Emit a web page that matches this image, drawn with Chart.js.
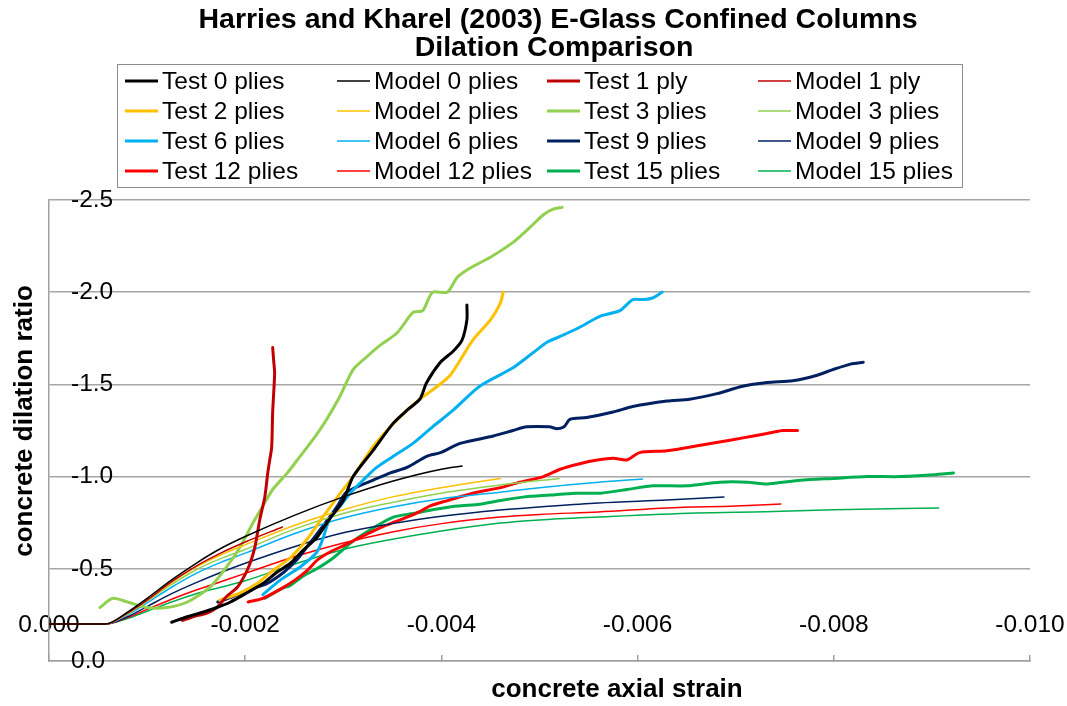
<!DOCTYPE html>
<html><head><meta charset="utf-8">
<script src="https://cdn.jsdelivr.net/npm/chart.js@4.4.1/dist/chart.umd.min.js"></script>
<style>html,body{margin:0;padding:0;background:#fff;}canvas{display:block;}</style>
</head><body>
<canvas id="c" width="1067" height="706"></canvas>
<script>
const FONT = '"Liberation Sans", Arial, Helvetica, sans-serif';

// ---------- data (concrete axial strain, concrete dilation ratio) ----------
const test0Strain = [-0.00125,-0.00141,-0.00154,-0.00171,-0.00185,-0.00202,-0.00218,-0.00232,-0.00246,-0.00259,-0.00273,-0.00286,-0.00300,-0.00310,-0.00330,-0.00351,-0.00365,-0.00378,-0.00385,-0.00399,-0.00412,-0.00421,-0.00426,-0.00426];
const test0Ratio  = [-0.21,-0.24,-0.26,-0.29,-0.32,-0.37,-0.42,-0.48,-0.53,-0.60,-0.67,-0.77,-0.87,-1.00,-1.14,-1.29,-1.36,-1.42,-1.51,-1.62,-1.68,-1.74,-1.85,-1.93];
const model0Strain = [0,-0.00057,-0.0008,-0.001,-0.00125,-0.0015,-0.00175,-0.002,-0.0025,-0.003,-0.0035,-0.004,-0.00421];
const model0Ratio  = [-0.2,-0.2,-0.265,-0.34,-0.44,-0.53,-0.61,-0.675,-0.79,-0.89,-0.975,-1.04,-1.057];

const test1Strain = [-0.00136,-0.00147,-0.00161,-0.00171,-0.00181,-0.00192,-0.00200,-0.00205,-0.00210,-0.00215,-0.00220,-0.00223,-0.00225,-0.00227,-0.00228,-0.00230,-0.00229,-0.00228];
const test1Ratio  = [-0.22,-0.24,-0.26,-0.29,-0.35,-0.40,-0.47,-0.53,-0.62,-0.77,-0.89,-1.02,-1.09,-1.16,-1.35,-1.56,-1.63,-1.70];
const model1Strain = [0,-0.00057,-0.0008,-0.001,-0.00125,-0.0015,-0.00175,-0.002,-0.00238];
const model1Ratio  = [-0.2,-0.2,-0.26,-0.33,-0.43,-0.515,-0.585,-0.645,-0.727];

const test2Strain = [-0.00174,-0.00195,-0.00212,-0.00228,-0.00246,-0.00263,-0.00279,-0.00297,-0.00310,-0.00330,-0.00348,-0.00365,-0.00378,-0.00396,-0.00409,-0.00419,-0.00432,-0.00450,-0.00460,-0.00463];
const test2Ratio  = [-0.33,-0.37,-0.42,-0.49,-0.56,-0.66,-0.78,-0.91,-1.00,-1.16,-1.27,-1.36,-1.42,-1.49,-1.55,-1.63,-1.74,-1.85,-1.94,-2.00];
const model2Strain = [0,-0.00057,-0.0008,-0.001,-0.00125,-0.0015,-0.00175,-0.002,-0.0025,-0.003,-0.0035,-0.004,-0.0046];
const model2Ratio  = [-0.2,-0.2,-0.26,-0.33,-0.425,-0.51,-0.575,-0.63,-0.735,-0.82,-0.89,-0.94,-0.99];

const test3Strain = [-0.00052,-0.00065,-0.00080,-0.00100,-0.00120,-0.00141,-0.00164,-0.00181,-0.00195,-0.00208,-0.00218,-0.00228,-0.00243,-0.00256,-0.00269,-0.00283,-0.00297,-0.00310,-0.00324,-0.00337,-0.00355,-0.00371,-0.00381,-0.00391,-0.00406,-0.00416,-0.00429,-0.00450,-0.00473,-0.00490,-0.00504,-0.00514,-0.00523];
const test3Ratio  = [-0.29,-0.34,-0.32,-0.29,-0.29,-0.32,-0.40,-0.51,-0.62,-0.75,-0.84,-0.93,-1.02,-1.11,-1.20,-1.31,-1.44,-1.58,-1.65,-1.71,-1.78,-1.89,-1.90,-2.00,-2.00,-2.08,-2.13,-2.19,-2.27,-2.35,-2.42,-2.45,-2.46];
const model3Strain = [0,-0.00057,-0.0008,-0.001,-0.00125,-0.0015,-0.00175,-0.002,-0.0025,-0.003,-0.0035,-0.004,-0.0046,-0.0052];
const model3Ratio  = [-0.2,-0.2,-0.255,-0.325,-0.415,-0.495,-0.555,-0.605,-0.715,-0.80,-0.86,-0.91,-0.954,-0.99];

const test6Strain = [-0.00218,-0.00236,-0.00256,-0.00273,-0.00279,-0.00286,-0.00297,-0.00307,-0.00320,-0.00334,-0.00351,-0.00371,-0.00391,-0.00412,-0.00439,-0.00473,-0.00493,-0.00508,-0.00521,-0.00541,-0.00562,-0.00582,-0.00595,-0.00606,-0.00616,-0.00625];
const test6Ratio  = [-0.36,-0.44,-0.51,-0.59,-0.66,-0.77,-0.84,-0.91,-0.98,-1.05,-1.11,-1.18,-1.27,-1.36,-1.49,-1.59,-1.67,-1.73,-1.76,-1.81,-1.87,-1.90,-1.96,-1.96,-1.97,-2.00];
const model6Strain = [0,-0.00057,-0.0008,-0.001,-0.00125,-0.0015,-0.00175,-0.002,-0.0025,-0.003,-0.0035,-0.004,-0.0046,-0.005,-0.0056,-0.00605];
const model6Ratio  = [-0.2,-0.2,-0.25,-0.315,-0.40,-0.475,-0.535,-0.585,-0.69,-0.775,-0.835,-0.88,-0.915,-0.94,-0.97,-0.987];

const test9Strain = [-0.00172,-0.00188,-0.00205,-0.00222,-0.00239,-0.00253,-0.00266,-0.00279,-0.00294,-0.00302,-0.00312,-0.00330,-0.00348,-0.00365,-0.00385,-0.00399,-0.00419,-0.00453,-0.00473,-0.00487,-0.00510,-0.00518,-0.00525,-0.00531,-0.00548,-0.00575,-0.00595,-0.00630,-0.00653,-0.00681,-0.00707,-0.00732,-0.00758,-0.00783,-0.00799,-0.00817,-0.00830];
const test9Ratio  = [-0.32,-0.35,-0.39,-0.42,-0.48,-0.55,-0.64,-0.73,-0.84,-0.91,-0.94,-0.98,-1.02,-1.05,-1.11,-1.13,-1.18,-1.22,-1.25,-1.27,-1.27,-1.26,-1.27,-1.31,-1.32,-1.35,-1.38,-1.41,-1.42,-1.45,-1.49,-1.51,-1.52,-1.55,-1.58,-1.61,-1.62];
const model9Strain = [0,-0.00057,-0.0008,-0.001,-0.00125,-0.0015,-0.00175,-0.002,-0.0025,-0.003,-0.0035,-0.004,-0.0046,-0.005,-0.0056,-0.0063,-0.00688];
const model9Ratio  = [-0.2,-0.2,-0.24,-0.295,-0.365,-0.425,-0.48,-0.53,-0.62,-0.695,-0.745,-0.785,-0.819,-0.835,-0.857,-0.873,-0.889];

const test12Strain = [-0.00203,-0.00218,-0.00236,-0.00251,-0.00263,-0.00274,-0.00286,-0.00302,-0.00317,-0.00341,-0.00365,-0.00378,-0.00388,-0.00406,-0.00432,-0.00460,-0.00480,-0.00504,-0.00521,-0.00541,-0.00559,-0.00575,-0.00589,-0.00602,-0.00630,-0.00664,-0.00697,-0.00718,-0.00738,-0.00748,-0.00763];
const test12Ratio  = [-0.32,-0.34,-0.39,-0.44,-0.49,-0.55,-0.59,-0.63,-0.67,-0.73,-0.78,-0.81,-0.84,-0.87,-0.91,-0.94,-0.97,-1.00,-1.04,-1.07,-1.09,-1.10,-1.09,-1.13,-1.14,-1.17,-1.20,-1.22,-1.24,-1.25,-1.25];
const model12Strain = [0,-0.00057,-0.0008,-0.001,-0.00125,-0.0015,-0.00175,-0.002,-0.0025,-0.003,-0.0035,-0.004,-0.0046,-0.005,-0.0056,-0.0063,-0.007,-0.00746];
const model12Ratio  = [-0.2,-0.2,-0.235,-0.28,-0.335,-0.385,-0.43,-0.475,-0.565,-0.64,-0.70,-0.745,-0.781,-0.795,-0.808,-0.83,-0.841,-0.851];

const test15Strain = [-0.00220,-0.00236,-0.00246,-0.00259,-0.00273,-0.00290,-0.00310,-0.00330,-0.00351,-0.00371,-0.00391,-0.00416,-0.00439,-0.00460,-0.00485,-0.00511,-0.00536,-0.00562,-0.00589,-0.00616,-0.00650,-0.00684,-0.00712,-0.00732,-0.00766,-0.00799,-0.00834,-0.00868,-0.00901,-0.00922];
const test15Ratio  = [-0.34,-0.39,-0.41,-0.46,-0.50,-0.56,-0.65,-0.72,-0.78,-0.80,-0.82,-0.84,-0.85,-0.87,-0.89,-0.90,-0.91,-0.91,-0.93,-0.95,-0.95,-0.97,-0.97,-0.96,-0.98,-0.99,-1.00,-1.00,-1.01,-1.02];
const model15Strain = [0,-0.00057,-0.0008,-0.001,-0.00125,-0.0015,-0.00175,-0.002,-0.0025,-0.003,-0.0035,-0.004,-0.0046,-0.005,-0.0056,-0.0066,-0.0073,-0.008,-0.00907];
const model15Ratio  = [-0.2,-0.2,-0.23,-0.27,-0.32,-0.365,-0.40,-0.435,-0.525,-0.605,-0.66,-0.705,-0.748,-0.765,-0.781,-0.803,-0.81,-0.82,-0.83];

const seriesLabels = ['Test 0 plies','Model 0 plies','Test 1 ply','Model 1 ply',
  'Test 2 plies','Model 2 plies','Test 3 plies','Model 3 plies',
  'Test 6 plies','Model 6 plies','Test 9 plies','Model 9 plies',
  'Test 12 plies','Model 12 plies','Test 15 plies','Model 15 plies'];
const seriesStrain = [test0Strain,model0Strain,test1Strain,model1Strain,test2Strain,model2Strain,test3Strain,model3Strain,
  test6Strain,model6Strain,test9Strain,model9Strain,test12Strain,model12Strain,test15Strain,model15Strain];
const seriesRatio = [test0Ratio,model0Ratio,test1Ratio,model1Ratio,test2Ratio,model2Ratio,test3Ratio,model3Ratio,
  test6Ratio,model6Ratio,test9Ratio,model9Ratio,test12Ratio,model12Ratio,test15Ratio,model15Ratio];
const seriesColors = ['#000000','#000000','#C00000','#C00000','#FFC000','#FFC000','#92D050','#92D050',
  '#00B0F0','#00B0F0','#002060','#002060','#FF0000','#FF0000','#00B050','#00B050'];

const titleLines = ['Harries and Kharel (2003) E-Glass Confined Columns','Dilation Comparison'];
const xTitle = 'concrete axial strain';
const yTitle = 'concrete dilation ratio';

// ---------- build datasets ----------
const datasets = seriesLabels.map((label, i) => {
  const isTest = label.startsWith('Test');
  const xs = seriesStrain[i], ys = seriesRatio[i];
  const n = Math.min(xs.length, ys.length);
  const pts = [];
  for (let k = 0; k < n; k++) pts.push({x: xs[k], y: ys[k]});
  return {
    label, data: pts,
    borderColor: seriesColors[i], backgroundColor: seriesColors[i],
    borderWidth: isTest ? 3 : 1.5,
    pointRadius: 0, pointHoverRadius: 0, fill: false,
    tension: isTest ? 0.25 : 0,
    cubicInterpolationMode: isTest ? 'default' : 'monotone',
    borderCapStyle: 'round', borderJoinStyle: 'round'
  };
});

const decorPlugin = {
  id: 'decor',
  afterDraw(chart) {
    const ctx = chart.ctx;
    ctx.save();
    // title
    ctx.fillStyle = '#000';
    ctx.textAlign = 'center'; ctx.textBaseline = 'middle';
    ctx.font = 'bold 28.5px ' + FONT;
    ctx.fillText(titleLines[0], 558, 20);
    ctx.fillText(titleLines[1], 554, 48);
    // axis titles
    ctx.font = 'bold 26px ' + FONT;
    ctx.fillText(xTitle, 617, 690);
    ctx.save();
    ctx.translate(25, 421); ctx.rotate(-Math.PI / 2);
    ctx.fillText(yTitle, 0, 0);
    ctx.restore();
    // legend
    ctx.strokeStyle = '#8c8c8c'; ctx.lineWidth = 1;
    ctx.strokeRect(117.5, 64.5, 845, 123);
    const colX = [125, 337, 547, 758];
    const rowY = [81, 111, 141, 171];
    ctx.textAlign = 'left';
    ctx.font = '24.5px ' + FONT;
    chart.data.datasets.forEach((ds, i) => {
      const x = colX[i % 4], y = rowY[Math.floor(i / 4)];
      ctx.strokeStyle = ds.borderColor; ctx.lineWidth = ds.borderWidth;
      ctx.lineCap = 'butt';
      ctx.beginPath(); ctx.moveTo(x, y); ctx.lineTo(x + 33, y); ctx.stroke();
      ctx.fillStyle = '#000';
      ctx.fillText(ds.label, x + 37, y + 1);
    });
    ctx.restore();
  }
};

new Chart(document.getElementById('c'), {
  type: 'line',
  data: { datasets },
  plugins: [decorPlugin],
  options: {
    responsive: false, animation: false, devicePixelRatio: 1,
    layout: { padding: { left: 49, right: 37, top: 200, bottom: 45 } },
    plugins: { legend: { display: false }, title: { display: false }, tooltip: { enabled: false } },
    scales: {
      x: {
        type: 'linear', min: -0.01, max: 0, reverse: true,
        afterFit: (s) => { s.height = 0; },
        border: { display: true, color: '#a0a0a0', width: 1.5 },
        grid: { display: true, drawOnChartArea: false, drawTicks: true, tickLength: -6, color: '#a0a0a0', lineWidth: 1.5 },
        ticks: { stepSize: 0.002, mirror: true, padding: 0, maxRotation: 0, autoSkip: false, color: '#000',
          font: { family: FONT, size: 24.5, lineHeight: '72px' },
          callback: (v) => Math.abs(v) < 1e-9 ? '0.000' : Number(v).toFixed(3) }
      },
      y: {
        type: 'linear', min: -2.5, max: 0, reverse: true,
        afterFit: (s) => { s.width = 0; },
        border: { display: true, color: '#a0a0a0', width: 1.5 },
        grid: { color: '#a6a6a6', lineWidth: 1.5, drawTicks: false },
        ticks: { stepSize: 0.5, mirror: true, padding: 22, color: '#000',
          font: { family: FONT, size: 24.5 },
          callback: (v) => Math.abs(v) < 1e-9 ? '0.0' : Number(v).toFixed(1) }
      }
    }
  }
});
</script>
</body></html>
